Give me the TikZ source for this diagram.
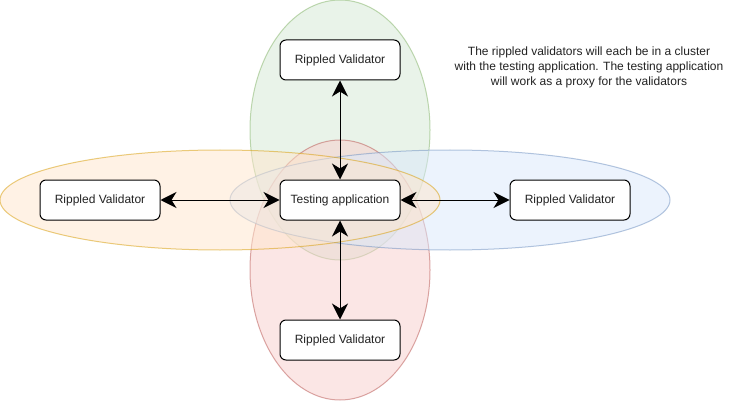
\documentclass[tikz,border=0pt]{standalone}
\usepackage{fontspec}
\setmainfont{Liberation Sans}
\usetikzlibrary{arrows.meta}
\definecolor{gfill}{HTML}{D5E8D4}\definecolor{gline}{HTML}{82B366}
\definecolor{rfill}{HTML}{F8CECC}\definecolor{rline}{HTML}{B85450}
\definecolor{ofill}{HTML}{FFE6CC}\definecolor{oline}{HTML}{D79B00}
\definecolor{bfill}{HTML}{DAE8FC}\definecolor{bline}{HTML}{6C8EBF}
\definecolor{txt}{HTML}{222222}
\begin{document}
\begin{tikzpicture}[x=1pt,y=-1pt,
  cluster/.style={line width=1pt,opacity=0.5},
  box/.style={draw=black,fill=white,line width=1pt,rounded corners=6pt,
    minimum width=120pt,minimum height=40pt,inner sep=0pt,
    font=\fontsize{12}{15}\selectfont,text=txt},
  biarrow/.style={line width=1pt,{Stealth[length=16pt,width=16pt,inset=5pt]}-{Stealth[length=16pt,width=16pt,inset=5pt]}},
  note/.style={align=center,font=\fontsize{12}{15}\selectfont,text=txt,inner sep=0pt}]
\useasboundingbox (0,0) rectangle (731,401);
\fill[white] (0,0) rectangle (731,401);
\draw[cluster,draw=gline,fill=gfill] (340,130) ellipse [x radius=90,y radius=130];
\draw[cluster,draw=rline,fill=rfill] (340,270) ellipse [x radius=90,y radius=130];
\draw[cluster,draw=bline,fill=bfill] (450,200) ellipse [x radius=220,y radius=50];
\draw[cluster,draw=oline,fill=ofill] (220,200) ellipse [x radius=220,y radius=50];
\node[box] (top) at (340,60) {Rippled Validator};
\node[box] (center) at (340,200) {Testing application};
\node[box] (left) at (100,200) {Rippled Validator};
\node[box] (right) at (570,200) {Rippled Validator};
\node[box] (bottom) at (340,340) {Rippled Validator};
\draw[biarrow] (top) -- (center);
\draw[biarrow] (left) -- (center);
\draw[biarrow] (center) -- (right);
\draw[biarrow] (center) -- (bottom);
\node[note] (txtnote) at (589,67) {The rippled validators will each be in a cluster\\with the testing application. The testing application\\will work as a proxy for the validators};
\end{tikzpicture}
\end{document}
